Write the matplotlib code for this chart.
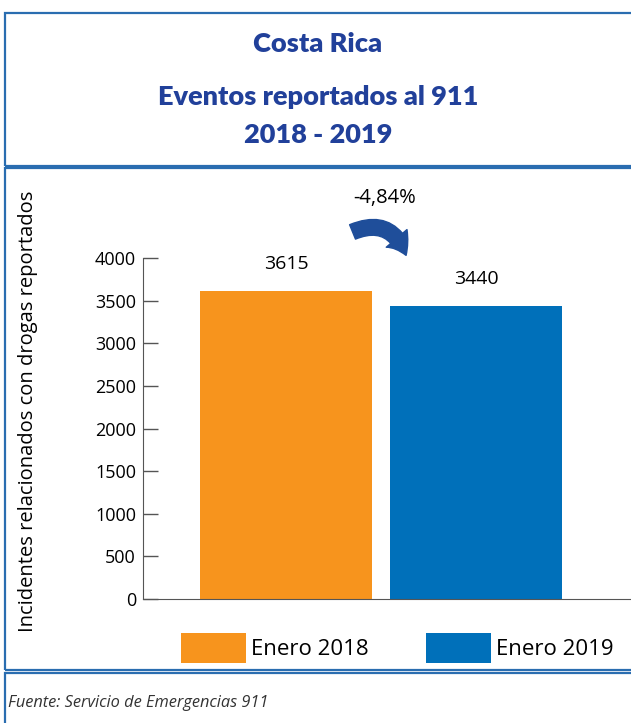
import matplotlib.pyplot as plt
from matplotlib.patches import Rectangle, FancyArrowPatch

categories = ['Enero 2018', 'Enero 2019']
values = [3615, 3440]
colors = ['#F7941D', '#0070BA']
change_label = '-4,84%'
yticks = [0, 500, 1000, 1500, 2000, 2500, 3000, 3500, 4000]

W, H = 631, 723
plt.rcParams['font.family'] = ['Open Sans', 'DejaVu Sans']

fig = plt.figure(figsize=(W / 100, H / 100), dpi=100)


def fx(px):
    return px / W


def fy(py):
    return 1 - py / H


# frames
border = '#2a6db0'
for top, bottom in [(13, 166), (168, 670), (673, 740)]:
    fig.patches.append(Rectangle((fx(5), fy(bottom)), fx(700) - fx(5), fy(top) - fy(bottom),
                                 transform=fig.transFigure, fill=False, edgecolor=border, lw=1.6))

# titles
title_color = '#21409a'
for ypx, txt in [(44, 'Costa Rica'), (97, 'Eventos reportados al 911'), (135, '2018 - 2019')]:
    fig.text(fx(318), fy(ypx), txt, ha='center', va='center', fontsize=19.5,
             fontweight='heavy', color=title_color, family=['Lato', 'DejaVu Sans'])

# axes: left spine at x=143, baseline y=599, 4000 at y=258
ax = fig.add_axes([fx(143), fy(599), fx(640) - fx(143), fy(258) - fy(599)])
x = [0, 1]
bars = ax.bar(x, values, width=0.905, color=colors)
ax.set_xlim(-0.753, 1.86)
ax.set_ylim(0, 4000)
ax.set_yticks(yticks)
ax.tick_params(axis='y', direction='in', length=11, width=1, color='#555555', labelsize=13, pad=5)
ax.set_xticks([])
for s in ['top', 'right']:
    ax.spines[s].set_visible(False)
ax.spines['left'].set_color('#555555')
ax.spines['bottom'].set_color('#555555')
ax.patch.set_alpha(0)

for xi, v in zip(x, values):
    ax.text(xi, v + 310, str(v), ha='center', va='center', fontsize=14)

fig.text(fx(28), fy(411), 'Incidentes relacionados con drogas reportados', rotation=90,
         ha='center', va='center', fontsize=14.5)

# change annotation
fig.text(fx(385), fy(198), change_label, ha='center', va='center', fontsize=14.5)
fig.patches.append(FancyArrowPatch(
    (fx(350), fy(233)), (fx(407), fy(258)), transform=fig.transFigure,
    connectionstyle='arc3,rad=-0.55', arrowstyle='simple,head_width=1.4,head_length=1.0,tail_width=0.8',
    mutation_scale=14, color='#1f4e9a'))

# legend
fig.legend(bars, categories, loc='center left', bbox_to_anchor=(fx(172), fy(648)),
           ncol=2, frameon=False, fontsize=16, handlelength=2.93, handleheight=1.71,
           handletextpad=0.23, columnspacing=2.57, borderaxespad=0)

fig.text(fx(8), fy(703), 'Fuente: Servicio de Emergencias 911', ha='left', va='center',
         fontsize=11.8, style='italic', color='#333333')

fig.savefig('out.png', dpi=100)
